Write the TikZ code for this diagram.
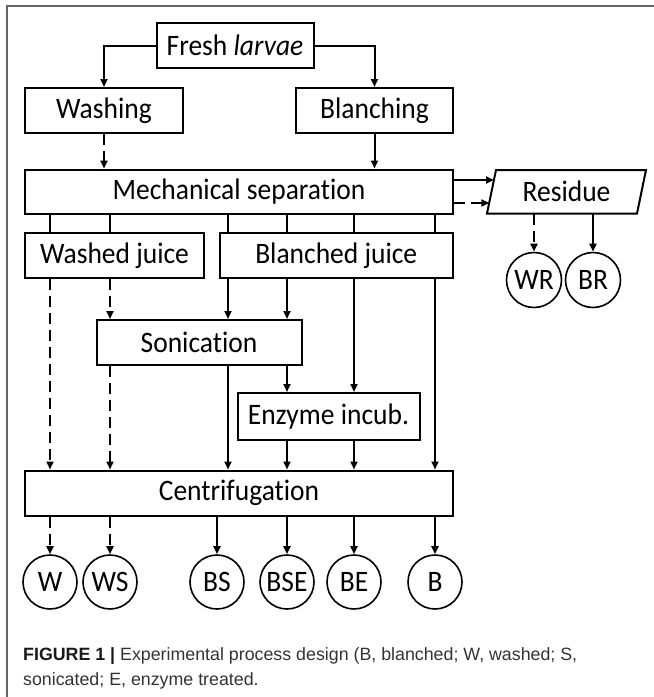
\documentclass[tikz,border=0pt]{standalone}
\usepackage{fontspec}
\setmainfont{Carlito}[Ligatures=NoCommon]
\newfontfamily\capfont{Liberation Sans}
\usetikzlibrary{arrows.meta,calc}
\newcommand{\tallt}[1]{\scalebox{1}[1.08]{#1}}
\begin{document}
\begin{tikzpicture}[x=1pt,y=-1pt,
  every node/.style={font=\fontsize{27.5}{32}\selectfont, inner sep=0pt},
  box/.style={draw, line width=2pt, rectangle, align=center},
  circ/.style={draw, line width=1.6pt, circle, minimum size=54pt},
  ln/.style={line width=2pt},
  arr/.style={line width=2pt, -{Triangle[length=8pt,width=7pt]}},
  dsh/.style={dash pattern=on 11pt off 6pt}
]
\useasboundingbox (0,0) rectangle (654,697);
% frame
\draw[line width=1.8pt, black!60] (7,697) -- (7,6) -- (654,6);

% columns
\coordinate (c1) at (50,0);
\coordinate (c2) at (110,0);
\coordinate (c3) at (228,0);
\coordinate (c3b) at (217,0);
\coordinate (c4) at (287,0);
\coordinate (c5) at (354,0);
\coordinate (c6) at (435,0);

% boxes
\node[box, minimum width=157pt, minimum height=45pt] (fresh) at (235,45.5) {\tallt{Fresh \textit{larvae}}};
\node[box, minimum width=158pt, minimum height=45pt] (wash) at (104,110.5) {\tallt{Washing}};
\node[box, minimum width=157pt, minimum height=45pt] (blanch) at (374.5,110.5) {\tallt{Blanching}};
\node[box, minimum width=428pt, minimum height=44pt] (mech) at (239,191.5) {\tallt{Mechanical separation}};
\node[box, minimum width=179pt, minimum height=45pt] (washj) at (114.5,255.5) {\tallt{Washed juice}};
\node[box, minimum width=233.5pt, minimum height=45pt] (blj) at (336.25,255.5) {\tallt{Blanched juice}};
\node[box, minimum width=205pt, minimum height=45pt] (son) at (199,342.5) {\tallt{Sonication}};
\node[box, minimum width=182pt, minimum height=47pt] (enz) at (328.5,416.5) {\tallt{Enzyme incub.}};
\node[box, minimum width=428pt, minimum height=45pt] (centr) at (239,493) {\tallt{Centrifugation}};

% residue parallelogram
\draw[line width=2pt] (496,170) -- (646,170) -- (637,213.5) -- (487,213.5) -- cycle;
\node (residue) at (566.5,191.5) {\tallt{Residue}};
\coordinate (resA) at (494,180);
\coordinate (resB) at (489.3,203);
\coordinate (resC) at (534,213.5);
\coordinate (resD) at (593,213.5);

% circles
\node[circ, minimum size=55pt] (WR) at (534,280) {\tallt{WR}};
\node[circ, minimum size=55pt] (BR) at (593,280) {\tallt{BR}};
\node[circ] (W) at (50,582) {\tallt{W}};
\node[circ] (WS) at (110,582) {\tallt{WS}};
\node[circ] (BS) at (217,582) {\tallt{BS}};
\node[circ] (BSE) at (287,582) {\tallt{BSE}};
\node[circ] (BE) at (354,582) {\tallt{BE}};
\node[circ] (B) at (435,582) {\tallt{B}};

% top connectors
\draw[arr] (fresh.west) -| (wash.north);
\draw[arr] (fresh.east) -| (blanch.north);
\draw[arr, dsh] (wash.south) -- (wash.south |- mech.north);
\draw[arr] (blanch.south) -- (blanch.south |- mech.north);

% to residue
\draw[arr] (mech.east |- resA) -- (resA);
\draw[arr, dsh] (mech.east |- resB) -- (resB);
\draw[arr, dsh] (resC) -- (WR.north);
\draw[arr] (resD) -- (BR.north);

% mech to juices
\draw[ln] (mech.south -| c1) -- (washj.north -| c1);
\draw[ln] (mech.south -| c2) -- (washj.north -| c2);
\draw[ln] (mech.south -| c3) -- (blj.north -| c3);
\draw[ln] (mech.south -| c4) -- (blj.north -| c4);
\draw[ln] (mech.south -| c5) -- (blj.north -| c5);
\draw[ln] (mech.south -| c6) -- (blj.north -| c6);

% juices downward
\draw[arr, dsh] (washj.south -| c1) -- (centr.north -| c1);
\draw[arr, dsh] (washj.south -| c2) -- (son.north -| c2);
\draw[arr] (blj.south -| c3) -- (son.north -| c3);
\draw[arr] (blj.south -| c4) -- (son.north -| c4);
\draw[arr] (blj.south -| c5) -- (enz.north -| c5);
\draw[arr] (blj.south -| c6) -- (centr.north -| c6);

% sonication downward
\draw[arr, dsh] (son.south -| c2) -- (centr.north -| c2);
\draw[arr] (son.south -| c3) -- (centr.north -| c3);
\draw[arr] (son.south -| c4) -- (enz.north -| c4);

% enzyme downward
\draw[arr] (enz.south -| c4) -- (centr.north -| c4);
\draw[arr] (enz.south -| c5) -- (centr.north -| c5);

% centrifugation to products
\draw[arr, dsh] (centr.south -| c1) -- (W.north);
\draw[arr, dsh] (centr.south -| c2) -- (WS.north);
\draw[arr] (centr.south -| c3b) -- (BS.north);
\draw[arr] (centr.south -| c4) -- (BSE.north);
\draw[arr] (centr.south -| c5) -- (BE.north);
\draw[arr] (centr.south -| c6) -- (B.north);

% caption
\node[anchor=base west, font=\capfont\fontsize{17.8}{20}\selectfont, text=black!80] (cap1) at (23,660)
  {\textbf{\color{black!90}FIGURE 1 |} Experimental process design (B, blanched; W, washed; S,};
\node[anchor=base west, font=\capfont\fontsize{17.8}{20}\selectfont, text=black!80] (cap2) at (23,685)
  {sonicated; E, enzyme treated.};
\end{tikzpicture}
\end{document}
